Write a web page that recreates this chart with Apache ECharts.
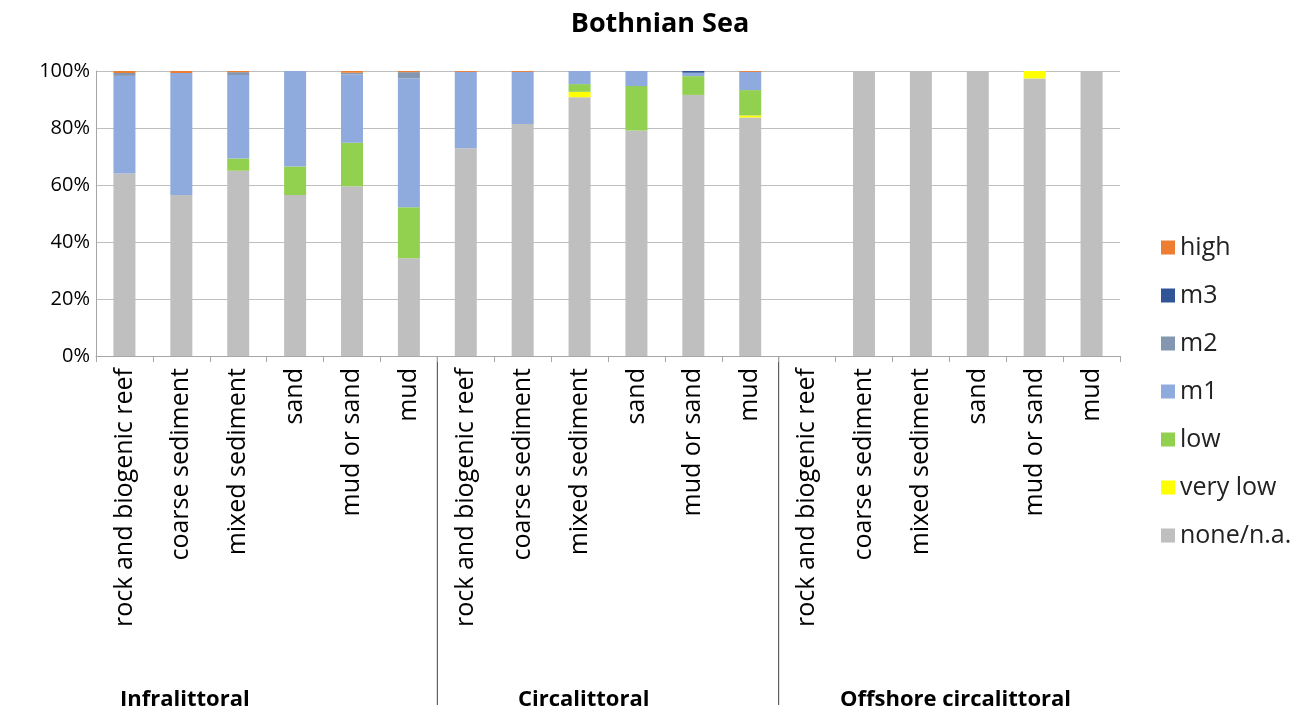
<!DOCTYPE html>
<html>
<head>
<meta charset="utf-8">
<script src="https://cdn.jsdelivr.net/npm/echarts@6/dist/echarts.min.js"></script>
<style>
  html, body { margin: 0; padding: 0; background: #fff; }
  #main { width: 1304px; height: 720px; }
</style>
</head>
<body>
<div id="main"></div>
<script>
const categories = [
  'rock and biogenic reef', 'coarse sediment', 'mixed sediment', 'sand', 'mud or sand', 'mud',
  'rock and biogenic reef', 'coarse sediment', 'mixed sediment', 'sand', 'mud or sand', 'mud',
  'rock and biogenic reef', 'coarse sediment', 'mixed sediment', 'sand', 'mud or sand', 'mud'
];
const groups = ['Infralittoral', 'Circalittoral', 'Offshore circalittoral'];
const yTicks = [0, 20, 40, 60, 80, 100];

// percentages per category, bottom of the stack first
const noneNa  = [64, 56.5, 65, 56.5, 59.6, 34.3, 72.9, 81.4, 90.8, 79.1, 91.6, 83.7, 0, 100, 100, 100, 97.4, 100];
const veryLow = [0, 0, 0, 0, 0, 0, 0, 0, 1.9, 0, 0, 0.7, 0, 0, 0, 0, 2.6, 0];
const low     = [0, 0, 4.3, 10, 15.2, 17.9, 0, 0, 2.7, 15.6, 6.6, 8.9, 0, 0, 0, 0, 0, 0];
const m1      = [34.3, 42.8, 29.3, 33.5, 24, 45.2, 26.8, 18.3, 4.6, 5.3, 1.2, 6.4, 0, 0, 0, 0, 0, 0];
const m2      = [1, 0, 1, 0, 0.6, 2.2, 0, 0, 0, 0, 0, 0, 0, 0, 0, 0, 0, 0];
const m3      = [0, 0, 0, 0, 0, 0, 0, 0, 0, 0, 0.6, 0, 0, 0, 0, 0, 0, 0];
const high    = [0.7, 0.7, 0.4, 0, 0.6, 0.4, 0.3, 0.3, 0, 0, 0, 0.3, 0, 0, 0, 0, 0, 0];

const seriesDefs = [
  { name: 'none/n.a.', data: noneNa,  color: '#BFBFBF' },
  { name: 'very low',  data: veryLow, color: '#FFFF00' },
  { name: 'low',       data: low,     color: '#92D050' },
  { name: 'm1',        data: m1,      color: '#8FAADC' },
  { name: 'm2',        data: m2,      color: '#8497B0' },
  { name: 'm3',        data: m3,      color: '#2F5597' },
  { name: 'high',      data: high,    color: '#ED7D31' }
];

const font = 'Open Sans, Liberation Sans, sans-serif';
const chart = echarts.init(document.getElementById('main'));

chart.setOption({
  animation: false,
  title: {
    text: 'Bothnian Sea',
    left: 655, top: 6, textAlign: 'center',
    textStyle: { fontFamily: font, fontSize: 27, fontWeight: 'bold', color: '#000' }
  },
  legend: {
    orient: 'vertical',
    left: 1156, top: 230,
    itemWidth: 14, itemHeight: 14, itemGap: 23,
    icon: 'rect',
    data: ['high', 'm3', 'm2', 'm1', 'low', 'very low', 'none/n.a.'],
    textStyle: { fontFamily: font, fontSize: 25, color: '#222' }
  },
  grid: { left: 96, right: 184, top: 71, bottom: 364 },
  xAxis: {
    type: 'category',
    data: categories,
    axisLine: { lineStyle: { color: '#a6a6a6' } },
    axisTick: { show: true, interval: 0, length: 6, lineStyle: { color: '#a6a6a6' } },
    axisLabel: {
      interval: 0, rotate: 90, margin: 12,
      fontFamily: font, fontSize: 25, color: '#000'
    }
  },
  yAxis: {
    type: 'value',
    min: yTicks[0], max: yTicks[yTicks.length - 1], interval: 20,
    axisLine: { show: true, lineStyle: { color: '#a6a6a6' } },
    axisTick: { show: false },
    splitLine: { lineStyle: { color: '#bfbfbf' } },
    axisLabel: {
      formatter: v => v + '%',
      margin: 6,
      fontFamily: font, fontSize: 20, color: '#000'
    }
  },
  series: seriesDefs.map(s => ({
    name: s.name,
    type: 'bar',
    stack: 'total',
    barWidth: 22,
    data: s.data,
    itemStyle: { color: s.color }
  }))
});

// group separators and group labels
const sepX = [5.5, 11.5].map(i => {
  const a = chart.convertToPixel({ xAxisIndex: 0 }, Math.floor(i));
  const b = chart.convertToPixel({ xAxisIndex: 0 }, Math.ceil(i));
  return (a + b) / 2;
});
const y0 = chart.convertToPixel({ yAxisIndex: 0 }, 0);
const groupX = [120, 518, 840];

chart.setOption({
  graphic: sepX.map(x => ({
    type: 'line',
    shape: { x1: x, y1: y0, x2: x, y2: 705 },
    style: { stroke: '#404040', lineWidth: 1 }
  })).concat(groups.map((g, i) => ({
    type: 'text',
    left: groupX[i], top: 689,
    style: { text: g, fontFamily: font, fontSize: 22, fontWeight: 'bold', fill: '#000' }
  })))
});
</script>
</body>
</html>
